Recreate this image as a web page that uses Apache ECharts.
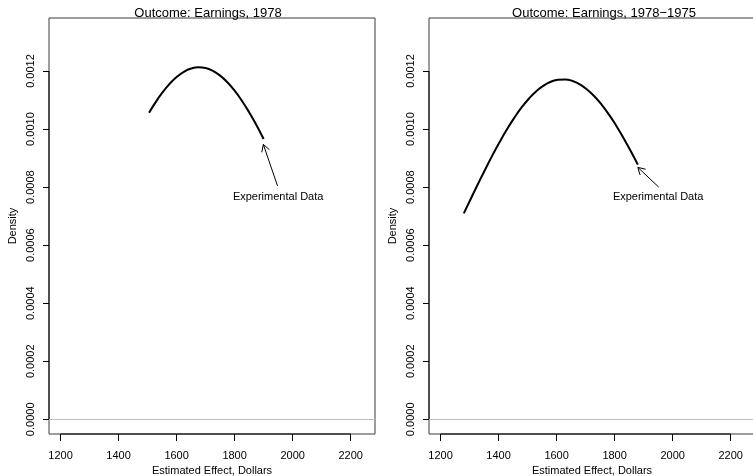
<!DOCTYPE html>
<html>
<head>
<meta charset="utf-8">
<script src="https://cdn.jsdelivr.net/npm/echarts@6/dist/echarts.min.js"></script>
<style>
  html, body { margin: 0; padding: 0; background: #fff; }
  #chart { width: 753px; height: 476px; }
</style>
</head>
<body>
<div id="chart"></div>
<script>
// Panel titles and axis text
const panelTitles = ['Outcome: Earnings, 1978', 'Outcome: Earnings, 1978\u22121975'];
const xAxisTitle = 'Estimated Effect, Dollars';
const yAxisTitle = 'Density';
const noteText = 'Experimental Data';

// Tick values and axis extents
const xTicks = [1200, 1400, 1600, 1800, 2000, 2200];
const yTicks = [0, 0.0002, 0.0004, 0.0006, 0.0008, 0.0010, 0.0012];
const xRange = [1160, 2284];
const yRange = [-0.0000506, 0.0013826];

// Density of the estimated effect, outcome = 1978 earnings
const earnings78X = [1505, 1525, 1550, 1575, 1600, 1625, 1650, 1675, 1700, 1725, 1750, 1775, 1800, 1825, 1850, 1875, 1900];
const earnings78Y = [0.001056, 0.0010885, 0.0011244, 0.0011548, 0.0011792, 0.0011972, 0.0012084, 0.0012128,
                     0.0012101, 0.0012005, 0.0011841, 0.0011612, 0.0011322, 0.0010976, 0.0010579, 0.0010138, 0.0009659];

// Density of the estimated effect, outcome = 1978 minus 1975 earnings
const diffX = [1280, 1305, 1330, 1355, 1380, 1405, 1430, 1455, 1480, 1505, 1530, 1555, 1580,
               1605, 1630, 1655, 1680, 1705, 1730, 1755, 1780, 1805, 1830, 1855, 1880];
const diffY = [0.0007097, 0.0007617, 0.0008132, 0.0008635, 0.0009120, 0.0009580, 0.0010010, 0.0010402,
               0.0010752, 0.0011054, 0.0011303, 0.0011496, 0.0011629, 0.0011701, 0.0011710, 0.0011656,
               0.0011540, 0.0011363, 0.0011129, 0.0010842, 0.0010505, 0.0010124, 0.0009704, 0.0009251, 0.0008773];

// Annotation: label position, arrow tail and arrow tip (data units), one per panel
const noteAt = [[1950, 0.000766], [1950, 0.000766]];
const arrowTail = [[1948, 0.000804], [1952, 0.000800]];
const arrowTip = [[1899, 0.000947], [1880, 0.000868]];

const FONT = '"Liberation Sans", Arial, Helvetica, sans-serif';
const panelLefts = [49, 429];
const titleCenters = [203, 599];

const chart = echarts.init(document.getElementById('chart'), null, { renderer: 'canvas' });

const zip = (xs, ys) => xs.map((x, i) => [x, ys[i]]);
const curves = [zip(earnings78X, earnings78Y), zip(diffX, diffY)];

const grids = [], xAxes = [], yAxes = [], titles = [], series = [];

for (let p = 0; p < 2; p++) {
  grids.push({
    left: panelLefts[p], top: 18, width: 326, height: 416,
    outerBoundsMode: 'none', containLabel: false,
    show: true, borderColor: '#3a3a3a', borderWidth: 1, backgroundColor: 'transparent'
  });
  xAxes.push({
    type: 'value', gridIndex: p, min: xRange[0], max: xRange[1], position: 'bottom',
    name: xAxisTitle, nameLocation: 'middle', nameGap: 30,
    nameTextStyle: { fontFamily: FONT, fontSize: 11, color: '#000' },
    axisLine: { show: false, onZero: false },
    axisTick: { show: true, inside: false, length: 7, customValues: xTicks, lineStyle: { color: '#000' } },
    axisLabel: { customValues: xTicks, margin: 16, fontFamily: FONT, fontSize: 11, color: '#000',
                 formatter: v => String(v), showMinLabel: true, showMaxLabel: true },
    splitLine: { show: false }
  });
  yAxes.push({
    type: 'value', gridIndex: p, min: yRange[0], max: yRange[1], position: 'left',
    name: yAxisTitle, nameLocation: 'middle', nameGap: 31, nameRotate: 90,
    nameTextStyle: { fontFamily: FONT, fontSize: 11, color: '#000' },
    axisLine: { show: false, onZero: false },
    axisTick: { show: true, inside: false, length: 6, customValues: yTicks, lineStyle: { color: '#000' } },
    axisLabel: { customValues: yTicks, rotate: 90, margin: 13, fontFamily: FONT, fontSize: 11, color: '#000',
                 formatter: v => v.toFixed(4) },
    splitLine: { show: false }
  });
  titles.push({
    text: panelTitles[p], left: titleCenters[p], top: 2, textAlign: 'center',
    textStyle: { fontFamily: FONT, fontSize: 13, fontWeight: 'normal', color: '#000' }
  });

  // density curve plus the zero reference line
  series.push({
    type: 'line', xAxisIndex: p, yAxisIndex: p, data: curves[p],
    showSymbol: false, smooth: true, silent: true,
    lineStyle: { color: '#000', width: 2 },
    markLine: {
      silent: true, symbol: 'none', animation: false,
      label: { show: false },
      lineStyle: { color: '#bebebe', type: 'solid', width: 1 },
      data: [{ yAxis: 0 }]
    },
    animation: false
  });

  // axis segments spanning the tick range
  series.push({
    type: 'custom', xAxisIndex: p, yAxisIndex: p, silent: true, clip: false, animation: false,
    data: [[0]],
    renderItem: (params, api) => {
      const a = api.coord([xTicks[0], yRange[0]]);
      const b = api.coord([xTicks[xTicks.length - 1], yRange[0]]);
      const c = api.coord([xRange[0], yTicks[0]]);
      const d = api.coord([xRange[0], yTicks[yTicks.length - 1]]);
      const st = { stroke: '#000', lineWidth: 1 };
      return {
        type: 'group',
        children: [
          { type: 'line', shape: { x1: a[0], y1: a[1], x2: b[0], y2: b[1] }, style: st },
          { type: 'line', shape: { x1: c[0], y1: c[1], x2: d[0], y2: d[1] }, style: st }
        ]
      };
    }
  });

  // annotation arrow and its label
  series.push({
    type: 'custom', xAxisIndex: p, yAxisIndex: p, silent: true, clip: false, animation: false,
    data: [[arrowTail[p][0], arrowTail[p][1], arrowTip[p][0], arrowTip[p][1], noteAt[p][0], noteAt[p][1]]],
    renderItem: (params, api) => {
      const t0 = api.coord([api.value(0), api.value(1)]);
      const t1 = api.coord([api.value(2), api.value(3)]);
      const lab = api.coord([api.value(4), api.value(5)]);
      const ang = Math.atan2(t0[1] - t1[1], t0[0] - t1[0]);
      const len = 8, spread = Math.PI / 6;
      const h1 = [t1[0] + len * Math.cos(ang + spread), t1[1] + len * Math.sin(ang + spread)];
      const h2 = [t1[0] + len * Math.cos(ang - spread), t1[1] + len * Math.sin(ang - spread)];
      const st = { stroke: '#000', lineWidth: 1 };
      return {
        type: 'group',
        children: [
          { type: 'line', shape: { x1: t0[0], y1: t0[1], x2: t1[0], y2: t1[1] }, style: st },
          { type: 'line', shape: { x1: t1[0], y1: t1[1], x2: h1[0], y2: h1[1] }, style: st },
          { type: 'line', shape: { x1: t1[0], y1: t1[1], x2: h2[0], y2: h2[1] }, style: st },
          { type: 'text', x: lab[0], y: lab[1],
            style: { text: noteText, fill: '#000', font: '11px ' + FONT, align: 'center', verticalAlign: 'middle' } }
        ]
      };
    }
  });
}

chart.setOption({
  animation: false,
  backgroundColor: '#fff',
  title: titles,
  grid: grids,
  xAxis: xAxes,
  yAxis: yAxes,
  series: series
});
</script>
</body>
</html>
